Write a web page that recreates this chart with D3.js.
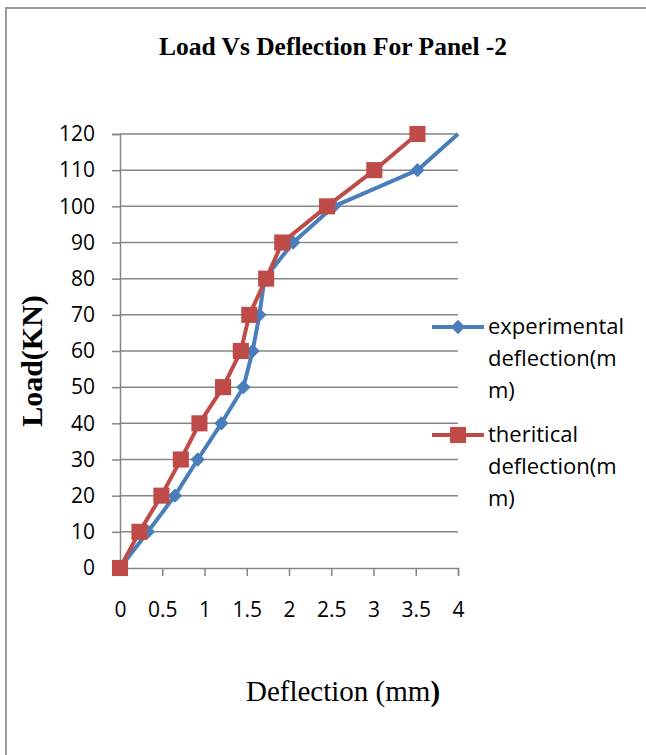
<!DOCTYPE html>
<html>
<head>
<meta charset="utf-8">
<script src="https://cdn.jsdelivr.net/npm/d3@7"></script>
<style>
  html, body { margin: 0; padding: 0; background: #fff; }
  svg { display: block; }
</style>
</head>
<body>
<div id="chart"></div>
<script>
// data
const loads = [0, 10, 20, 30, 40, 50, 60, 70, 80, 90, 100, 110, 120]
const experimental = [0, 0.33, 0.65, 0.92, 1.2, 1.46, 1.57, 1.65, 1.71, 2.05, 2.53, 3.52, 4.0]
const theoretical = [0, 0.23, 0.49, 0.72, 0.94, 1.22, 1.43, 1.53, 1.73, 1.92, 2.45, 3.01, 3.52]
const xTicks = [0, 0.5, 1, 1.5, 2, 2.5, 3, 3.5, 4]
const yTicks = [0, 10, 20, 30, 40, 50, 60, 70, 80, 90, 100, 110, 120]
const seriesNames = [['experimental', 'deflection(m', 'm)'], ['theritical', 'deflection(m', 'm)']]

const width = 646
const height = 755
const plot = { left: 120, right: 458, top: 134, bottom: 568 }
const COLORS = { blue: '#4a7ebb', red: '#be4b48', grid: '#868686', text: '#000' }
const sans = "'Open Sans', 'Noto Sans', sans-serif"
const serif = "'Liberation Serif', 'Times New Roman', serif"

const svg = d3.select('#chart').append('svg')
  .attr('width', width)
  .attr('height', height)

// outer frame
svg.append('path')
  .attr('d', `M6,${height} L6,8 L${width},8`)
  .attr('fill', 'none')
  .attr('stroke', '#9a9a9a')
  .attr('stroke-width', 2)

// title
svg.append('text')
  .attr('x', 333)
  .attr('y', 55)
  .attr('text-anchor', 'middle')
  .attr('font-family', serif)
  .attr('font-size', 25.5)
  .attr('font-weight', 'bold')
  .text('Load Vs Deflection For Panel -2')

const x = d3.scaleLinear().domain([0, 4]).range([plot.left, plot.right])
const y = d3.scaleLinear().domain([0, 120]).range([plot.bottom, plot.top])

// grid
svg.append('g')
  .selectAll('line')
  .data(yTicks.filter(d => d > 0))
  .join('line')
  .attr('x1', plot.left)
  .attr('x2', plot.right)
  .attr('y1', d => y(d))
  .attr('y2', d => y(d))
  .attr('stroke', COLORS.grid)
  .attr('stroke-width', 1.5)

// y axis
const yAxis = svg.append('g')
  .attr('transform', `translate(${plot.left},0)`)
  .call(d3.axisLeft(y).tickValues(yTicks).tickSize(8).tickPadding(17).tickFormat(d3.format('d')))
yAxis.select('.domain').attr('stroke', COLORS.grid).attr('stroke-width', 1.5)
yAxis.selectAll('.tick line').attr('stroke', COLORS.grid).attr('stroke-width', 1.5)
yAxis.selectAll('.tick text')
  .attr('font-family', sans)
  .attr('font-size', 21)
  .attr('fill', COLORS.text)

// x axis
const xAxis = svg.append('g')
  .attr('transform', `translate(0,${plot.bottom})`)
  .call(d3.axisBottom(x).tickValues(xTicks).tickSize(8).tickPadding(26).tickFormat(d => d))
xAxis.select('.domain').attr('stroke', COLORS.grid).attr('stroke-width', 1.5)
xAxis.selectAll('.tick line').attr('stroke', COLORS.grid).attr('stroke-width', 1.5)
xAxis.selectAll('.tick text')
  .attr('font-family', sans)
  .attr('font-size', 21)
  .attr('fill', COLORS.text)

// axis titles
svg.append('text')
  .attr('transform', `translate(42,361) rotate(-90)`)
  .attr('text-anchor', 'middle')
  .attr('font-family', serif)
  .attr('font-size', 30)
  .attr('font-weight', 'bold')
  .text('Load(KN)')

const xt = svg.append('text')
  .attr('x', 343)
  .attr('y', 701)
  .attr('text-anchor', 'middle')
  .attr('font-family', serif)
  .attr('font-size', 29)
xt.append('tspan').text('Deflection (mm')
xt.append('tspan').attr('font-weight', 'bold').text(')')

const line = d3.line()
  .x(d => x(d[0]))
  .y(d => y(d[1]))

const diamond = d3.symbol().type(d3.symbolDiamond2).size(130)
const square = d3.symbol().type(d3.symbolSquare2).size(330)

const expPts = loads.map((l, i) => [experimental[i], l])
const thPts = loads.map((l, i) => [theoretical[i], l])

// experimental series
svg.append('path')
  .datum(expPts)
  .attr('d', line)
  .attr('fill', 'none')
  .attr('stroke', COLORS.blue)
  .attr('stroke-width', 4)
  .attr('stroke-linejoin', 'round')
svg.append('g')
  .selectAll('path')
  .data(expPts.filter(d => d[0] < 4))
  .join('path')
  .attr('transform', d => `translate(${x(d[0])},${y(d[1])})`)
  .attr('d', diamond)
  .attr('fill', COLORS.blue)

// theoretical series
svg.append('path')
  .datum(thPts)
  .attr('d', line)
  .attr('fill', 'none')
  .attr('stroke', COLORS.red)
  .attr('stroke-width', 4)
  .attr('stroke-linejoin', 'round')
svg.append('g')
  .selectAll('path')
  .data(thPts)
  .join('path')
  .attr('transform', d => `translate(${x(d[0])},${y(d[1])})`)
  .attr('d', square)
  .attr('fill', COLORS.red)

// legend
const legend = [
  { color: COLORS.blue, sym: diamond, lines: seriesNames[0], y: 327 },
  { color: COLORS.red, sym: square, lines: seriesNames[1], y: 435 }
]
const lg = svg.append('g')
legend.forEach(item => {
  lg.append('line')
    .attr('x1', 432).attr('x2', 484)
    .attr('y1', item.y).attr('y2', item.y)
    .attr('stroke', item.color)
    .attr('stroke-width', 4)
  lg.append('path')
    .attr('transform', `translate(458,${item.y})`)
    .attr('d', item.sym)
    .attr('fill', item.color)
  lg.append('g')
    .selectAll('text')
    .data(item.lines)
    .join('text')
    .attr('x', 488)
    .attr('y', (d, i) => item.y + 7 + i * 32)
    .attr('font-family', sans)
    .attr('font-size', 22)
    .attr('fill', COLORS.text)
    .text(d => d)
})
</script>
</body>
</html>
